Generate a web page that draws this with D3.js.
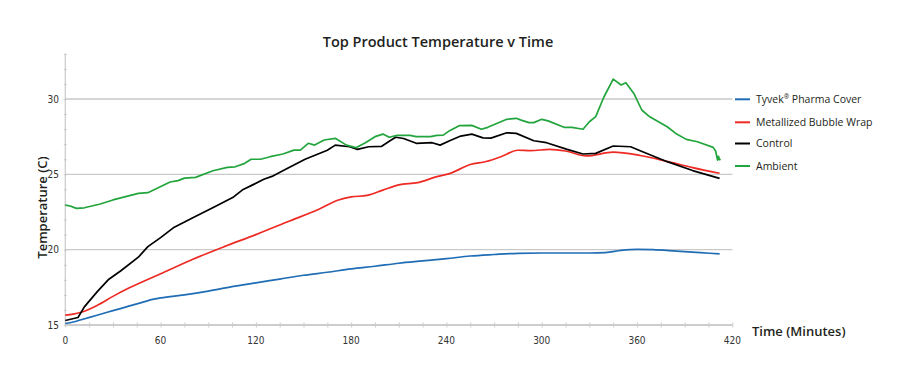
<!DOCTYPE html>
<html>
<head>
<meta charset="utf-8">
<script src="https://cdn.jsdelivr.net/npm/d3@7"></script>
<style>
  html, body { margin: 0; padding: 0; background: #fff; }
  svg { display: block; }
  .tick-label { font-family: "Liberation Sans Narrow", "DejaVu Sans Condensed", sans-serif; font-size: 10px; fill: #333; }
  .bold { font-family: "Open Sans", sans-serif; font-weight: 600; fill: #231f20; }
  .legend { font-family: "Open Sans", sans-serif; font-size: 10.5px; fill: #231f20; }
</style>
</head>
<body>
<svg id="chart" width="900" height="390"></svg>
<script>
// ---- Data ----
const xTicks = [0, 60, 120, 180, 240, 300, 360, 420];
const yTicks = [15, 20, 25, 30];
const seriesNames = ["Tyvek\u00AE Pharma Cover", "Metallized Bubble Wrap", "Control", "Ambient"];
const seriesColors = ["#1f6db5", "#ee2a24", "#000000", "#22a53c"];

const tyvekTime = [0, 5, 10, 20, 30, 40, 50, 55, 60, 75, 90, 105, 120, 135, 150, 165, 180, 195, 210, 225, 240, 255, 270, 285, 300, 315, 330, 340, 350, 360, 370, 385, 400, 412];
const tyvekTemp = [15.1, 15.2, 15.35, 15.65, 15.95, 16.25, 16.55, 16.7, 16.8, 17.0, 17.25, 17.55, 17.8, 18.05, 18.3, 18.5, 18.72, 18.9, 19.1, 19.25, 19.4, 19.58, 19.68, 19.76, 19.78, 19.78, 19.78, 19.8, 19.95, 20.02, 20.0, 19.9, 19.8, 19.72];

const bubbleTime = [0, 5, 10, 20, 30, 40, 60, 80, 100, 120, 140, 160, 172, 180, 190, 200, 210, 222, 234, 242, 255, 265, 275, 285, 293, 305, 315, 328, 345, 362, 380, 395, 412];
const bubbleTemp = [15.65, 15.72, 15.85, 16.3, 16.9, 17.45, 18.4, 19.35, 20.2, 21.0, 21.85, 22.7, 23.3, 23.5, 23.6, 23.95, 24.3, 24.45, 24.85, 25.05, 25.65, 25.85, 26.2, 26.6, 26.57, 26.66, 26.55, 26.22, 26.47, 26.25, 25.83, 25.45, 25.07];

const controlTime = [0, 8, 12, 20, 27, 35, 46, 52, 60, 68, 80, 95, 106, 112, 118, 125, 131, 140, 151, 158, 165, 170, 179, 184, 191, 199, 204, 208, 213, 221, 231, 236, 242, 249, 256, 263, 268, 278, 284, 295, 303, 316, 326, 334, 345, 356, 362, 379, 395, 412];
const controlTemp = [15.3, 15.5, 16.2, 17.2, 18.0, 18.6, 19.5, 20.2, 20.8, 21.45, 22.1, 22.9, 23.5, 24.0, 24.3, 24.67, 24.9, 25.4, 26.0, 26.3, 26.6, 26.94, 26.83, 26.66, 26.83, 26.85, 27.2, 27.46, 27.38, 27.06, 27.1, 26.94, 27.23, 27.54, 27.67, 27.42, 27.4, 27.76, 27.72, 27.23, 27.1, 26.66, 26.35, 26.39, 26.88, 26.83, 26.57, 25.84, 25.25, 24.73];

const ambientTime = [0, 3, 7, 12, 22, 30, 46, 52, 66, 71, 75, 82, 93, 102, 107, 113, 117, 123, 129, 137, 144, 148, 153, 157, 163, 170, 177, 183, 189, 195, 200, 204, 209, 217, 221, 230, 234, 238, 242, 248, 256, 262, 266, 278, 284, 287, 292, 295, 300, 304, 314, 319, 326, 330, 334, 339, 345, 350, 353, 358, 363, 368, 379, 385, 391, 398, 408, 409.5, 410.7, 411.3, 411.9, 412.7];
const ambientTemp = [22.96, 22.9, 22.74, 22.78, 23.03, 23.3, 23.74, 23.78, 24.49, 24.58, 24.75, 24.8, 25.24, 25.46, 25.5, 25.73, 26.0, 26.0, 26.17, 26.35, 26.61, 26.61, 27.06, 26.94, 27.28, 27.39, 26.94, 26.77, 27.1, 27.5, 27.67, 27.46, 27.59, 27.59, 27.5, 27.5, 27.59, 27.6, 27.9, 28.23, 28.25, 27.99, 28.12, 28.65, 28.72, 28.6, 28.43, 28.43, 28.65, 28.55, 28.12, 28.12, 27.99, 28.49, 28.83, 30.1, 31.32, 30.93, 31.08, 30.37, 29.27, 28.82, 28.16, 27.67, 27.32, 27.16, 26.79, 26.55, 25.95, 26.2, 25.97, 26.0];

const seriesTimes = [tyvekTime, bubbleTime, controlTime, ambientTime];
const seriesTemps = [tyvekTemp, bubbleTemp, controlTemp, ambientTemp];

// ---- Layout ----
const svg = d3.select("#chart");
const x = d3.scaleLinear().domain([0, 420]).range([65.3, 732.3]);
const y = d3.scaleLinear().domain([15, 30]).range([325, 99]);
const yTop = y(33);

// grid lines
svg.append("g").selectAll("line")
  .data(yTicks.filter(v => v > 15))
  .join("line")
  .attr("x1", x(0)).attr("x2", x(420))
  .attr("y1", d => y(d)).attr("y2", d => y(d))
  .attr("stroke", "#c9c9c9").attr("stroke-width", 1.4);

// y axis
const yAxis = d3.axisLeft(y).tickValues(d3.range(15, 34, 1)).tickSize(3).tickFormat("");
const gy = svg.append("g").attr("transform", `translate(${x(0) + 1.5},0)`).call(yAxis);
gy.select(".domain").remove();
gy.selectAll(".tick line").attr("stroke", "#c9c9c9").attr("stroke-width", 1);
svg.append("line").attr("x1", x(0)).attr("x2", x(0)).attr("y1", yTop).attr("y2", y(15))
  .attr("stroke", "#c9c9c9").attr("stroke-width", 1.2);
svg.append("g").selectAll("text").data(yTicks).join("text")
  .attr("class", "tick-label")
  .attr("x", 59).attr("y", d => y(d) + 3.5)
  .attr("text-anchor", "end")
  .text(d => d);

// x axis
const xAxis = d3.axisBottom(x).tickValues(d3.range(0, 421, 15)).tickSize(5).tickFormat("");
const gx = svg.append("g").attr("transform", `translate(0,${y(15) - 2.5})`).call(xAxis);
gx.select(".domain").remove();
gx.selectAll(".tick line").attr("stroke", "#c9c9c9").attr("stroke-width", 1);
svg.append("line").attr("x1", x(0)).attr("x2", x(420)).attr("y1", y(15)).attr("y2", y(15))
  .attr("stroke", "#cdcdcd").attr("stroke-width", 2);
svg.append("g").selectAll("text").data(xTicks).join("text")
  .attr("class", "tick-label")
  .attr("x", d => x(d)).attr("y", 344)
  .attr("text-anchor", "middle")
  .text(d => d);

// lines
seriesNames.forEach((name, i) => {
  const pts = seriesTimes[i].map((t, j) => [t, seriesTemps[i][j]]);
  const line = d3.line()
    .x(d => x(d[0])).y(d => y(d[1]))
    .curve(i < 2 ? d3.curveMonotoneX : d3.curveLinear);
  svg.append("path")
    .datum(pts)
    .attr("fill", "none")
    .attr("stroke", seriesColors[i])
    .attr("stroke-width", 1.7)
    .attr("stroke-linejoin", "round")
    .attr("d", line);
});

// titles
svg.append("text").attr("class", "bold")
  .attr("x", 438).attr("y", 47).attr("text-anchor", "middle")
  .attr("font-size", 14.5)
  .text("Top Product Temperature v Time");
svg.append("text").attr("class", "bold")
  .attr("x", 752).attr("y", 336).attr("font-size", 13)
  .text("Time (Minutes)");
svg.append("text").attr("class", "bold")
  .attr("transform", "translate(47,207.5) rotate(-90)")
  .attr("text-anchor", "middle").attr("font-size", 13)
  .text("Temperature (C)");

// legend
const legendY = [99.3, 122.3, 143.5, 166];
const lg = svg.append("g").selectAll("g").data(seriesNames).join("g")
  .attr("transform", (d, i) => `translate(735,${legendY[i]})`);
lg.append("line").attr("x1", 0).attr("x2", 15).attr("y1", 0).attr("y2", 0)
  .attr("stroke", (d, i) => seriesColors[i]).attr("stroke-width", 2);
lg.append("text").attr("class", "legend").attr("x", 21).attr("y", 3.8)
  .each(function(d) {
    const t = d3.select(this);
    const parts = d.split("\u00AE");
    t.append("tspan").text(parts[0]);
    if (parts.length > 1) {
      t.append("tspan").attr("font-size", "6.5px").attr("dy", -4).text("\u00AE");
      t.append("tspan").attr("dy", 4).text(parts[1]);
    }
  });
</script>
</body>
</html>
